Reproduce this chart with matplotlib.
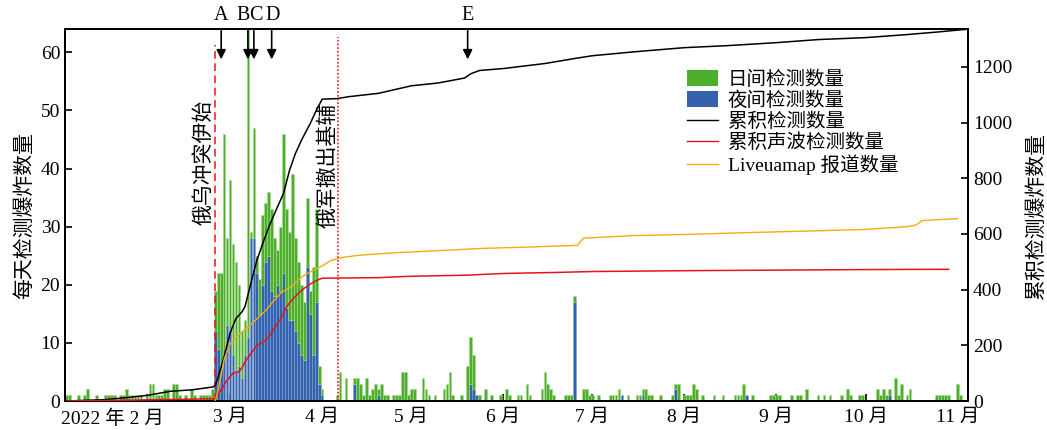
import matplotlib
matplotlib.use("Agg")
import numpy as np
import matplotlib.pyplot as plt
import matplotlib.dates as mdates
from matplotlib.patches import Patch
from matplotlib.lines import Line2D
from matplotlib.transforms import ScaledTranslation

plt.rcParams["font.family"] = ["Liberation Serif", "Noto Sans CJK SC"]

# daily detections (MM-DD of 2022), total per day and the night part of it
det_days = [
    "01-05", "01-06", "01-09", "01-11", "01-12", "01-15", "01-18", "01-19", "01-20", "01-21",
    "01-23", "01-24", "01-25", "01-26", "01-27", "01-28", "01-29", "01-30", "02-01", "02-02",
    "02-03", "02-04", "02-05", "02-06", "02-07", "02-08", "02-10", "02-11", "02-12", "02-14",
    "02-16", "02-17", "02-19", "02-20", "02-21", "02-22", "02-23",
    "02-24", "02-25", "02-26", "02-27", "02-28", "03-01", "03-02", "03-03", "03-04", "03-05",
    "03-06", "03-07", "03-08", "03-09", "03-10", "03-11", "03-12", "03-13", "03-14", "03-15",
    "03-16", "03-17", "03-18", "03-19", "03-20", "03-21", "03-22", "03-23", "03-24", "03-25",
    "03-26", "03-27", "03-28", "03-29", "03-30", "03-31", "04-01",
    "04-06", "04-07", "04-09", "04-12", "04-13", "04-14", "04-15", "04-16", "04-17", "04-18",
    "04-19", "04-20", "04-21", "04-22", "04-23", "04-25", "04-26", "04-27", "04-28", "04-29",
    "04-30", "05-01", "05-02", "05-05", "05-06", "05-07", "05-09", "05-12", "05-13", "05-14",
    "05-15", "05-18", "05-20", "05-21", "05-22", "05-23", "05-24", "05-26", "05-28", "05-31",
    "06-02", "06-03", "06-06", "06-07", "06-09", "06-10", "06-14", "06-15", "06-16", "06-17",
    "06-18", "06-22", "06-23", "06-24", "06-25", "06-28", "06-29", "06-30", "07-01", "07-03",
    "07-07", "07-08", "07-09", "07-10", "07-11", "07-13", "07-16", "07-17", "07-18", "07-19",
    "07-20", "07-21", "07-24", "07-28", "07-29", "07-30", "08-01", "08-02", "08-03", "08-04",
    "08-05", "08-07", "08-11", "08-14", "08-18", "08-19", "08-20", "08-21", "08-22", "08-24",
    "08-30", "08-31", "09-01", "09-02", "09-06", "09-08", "09-09", "09-11", "09-15", "09-17",
    "09-19", "09-23", "09-25", "09-26", "09-29", "09-30", "10-05", "10-06", "10-07", "10-08",
    "10-09", "10-11", "10-12", "10-13", "10-15", "10-16", "10-25", "10-26", "10-27", "10-28",
    "10-29", "11-01", "11-02",
]
det_total = [
    1, 1, 1, 1, 2, 1, 1, 1, 1, 1,
    1, 1, 2, 1, 1, 1, 1, 1, 1, 3,
    3, 1, 1, 1, 2, 2, 3, 3, 1, 1,
    2, 1, 1, 1, 1, 1, 2,
    19, 22, 22, 46, 28, 38, 27, 24, 20, 12,
    14, 66, 29, 47, 25, 21, 32, 34, 36, 33,
    28, 26, 30, 46, 33, 29, 39, 28, 24, 20,
    17, 35, 19, 23, 33, 6, 2,
    1, 5, 4, 4, 4, 3, 1, 4, 1, 2,
    3, 2, 3, 1, 1, 1, 1, 1, 5, 5,
    1, 2, 2, 4, 2, 1, 1, 2, 3, 5,
    1, 1, 6, 11, 8, 1, 1, 2, 1, 1,
    2, 1, 1, 1, 3, 1, 2, 5, 3, 2,
    1, 1, 1, 1, 18, 2, 2, 1, 1, 1,
    1, 1, 1, 2, 1, 1, 1, 1, 2, 2,
    1, 1, 1, 1, 3, 3, 1, 1, 1, 3,
    2, 1, 1, 1, 1, 1, 1, 3, 1, 1,
    1, 1, 1, 1, 1, 1, 1, 2, 1, 1,
    1, 1, 2, 1, 1, 1, 2, 1, 2, 1,
    2, 4, 1, 3, 1, 2, 1, 1, 1, 1,
    1, 3, 1,
]
det_night = [
    0, 0, 0, 0, 0, 0, 0, 0, 0, 0,
    0, 0, 0, 0, 0, 0, 0, 0, 0, 0,
    0, 0, 0, 0, 0, 0, 0, 0, 0, 0,
    0, 0, 0, 0, 0, 0, 0,
    12, 9, 6, 9, 13, 12, 8, 5, 6, 4,
    8, 11, 28, 28, 22, 15, 20, 24, 25, 19,
    18, 20, 19, 22, 16, 14, 14, 12, 10, 8,
    7, 23, 15, 8, 17, 3, 1,
    0, 0, 0, 3, 0, 0, 0, 0, 0, 0,
    0, 1, 0, 0, 0, 0, 0, 0, 0, 0,
    0, 0, 0, 0, 0, 0, 0, 0, 0, 0,
    0, 0, 0, 3, 2, 1, 0, 0, 0, 0,
    0, 0, 0, 0, 0, 0, 0, 0, 0, 0,
    0, 0, 0, 0, 17, 0, 0, 0, 0, 0,
    0, 0, 0, 0, 1, 0, 0, 0, 1, 0,
    0, 0, 0, 0, 2, 0, 0, 0, 0, 0,
    0, 0, 0, 0, 0, 0, 0, 0, 1, 0,
    0, 0, 0, 0, 0, 0, 0, 0, 0, 0,
    0, 0, 0, 0, 0, 0, 0, 0, 0, 0,
    1, 0, 0, 0, 0, 0, 0, 0, 0, 0,
    0, 0, 0,
]

# cumulative curves
cum_days = ["01-05", "01-18", "01-26", "02-01", "02-09", "02-16", "02-23", "02-24", "02-25",
            "02-27", "03-01", "03-03", "03-05", "03-06", "03-08", "03-10", "03-12", "03-14",
            "03-16", "03-19", "03-21", "03-23", "03-25", "03-28", "03-30", "04-01", "04-06",
            "04-10", "04-20", "05-01", "05-10", "05-19", "05-21", "05-24", "06-01", "06-15",
            "06-25", "07-01", "07-15", "08-01", "08-15", "09-01", "09-15", "10-01", "10-15",
            "10-25", "11-04"]
cum_total = [0, 5, 13, 20, 35, 40, 50, 55, 87,
             159, 244, 297, 320, 338, 423, 505, 566, 624,
             674, 746, 828, 889, 936, 997, 1043, 1084, 1086,
             1093, 1105, 1132, 1142, 1160, 1175, 1187, 1194, 1212,
             1230, 1240, 1254, 1269, 1276, 1287, 1298, 1305, 1316,
             1325, 1335]

acoustic_days = ["01-05", "02-01", "02-23", "02-24", "02-26", "02-28", "03-02", "03-04", "03-05",
                 "03-06", "03-08", "03-10", "03-12", "03-14", "03-16", "03-18", "03-20", "03-22",
                 "03-24", "03-26", "03-28", "03-30", "04-01", "04-20", "05-01", "05-20", "06-01",
                 "06-20", "07-01", "08-01", "09-01", "10-01", "10-29"]
acoustic_cum = [0, 4, 8, 8, 40, 75, 100, 106, 118,
                141, 170, 200, 210, 230, 262, 295, 338, 365,
                387, 405, 420, 432, 441, 443, 448, 452, 458,
                462, 465, 468, 470, 472, 473]

lum_days = ["02-24", "02-25", "02-27", "03-01", "03-04", "03-07", "03-10", "03-13", "03-15",
            "03-18", "03-22", "03-25", "03-29", "04-01", "04-04", "04-08", "04-14", "04-25",
            "05-10", "05-25", "06-10", "06-26", "06-28", "07-15", "08-01", "08-20", "09-10",
            "10-01", "10-15", "10-18", "10-20", "11-01"]
lum_cum = [0, 40, 150, 205, 240, 265, 295, 325, 351,
           387, 413, 445, 470, 485, 505, 516, 524, 532,
           540, 548, 553, 559, 585, 594, 598, 604, 610,
           616, 626, 632, 648, 655]

events = ["A", "B", "C", "D", "E"]
event_days = ["02-26", "03-07", "03-09", "03-15", "05-20"]
event_label_shift = [0, -5, 2, 1, 0]  # pixels, keeps B and C apart
month_labels = ["2022 年 2 月", "3 月", "4 月", "5 月", "6 月", "7 月", "8 月", "9 月", "10 月", "11 月"]


def to_dates(days):
    return mdates.datestr2num(["2022-" + d for d in days])


green = "#4dad2c"
blue = "#3562ad"

fig = plt.figure(figsize=(10.47, 4.30), dpi=100)
ax = fig.add_axes([65 / 1047, 1 - 401 / 430, 903 / 1047, 372 / 430])

x = to_dates(det_days)
night = np.array(det_night)
day = np.array(det_total) - night
ax.bar(x, night, width=0.9, color=blue, edgecolor="#7fa0d6", linewidth=0.4, zorder=2)
ax.bar(x, day, bottom=night, width=0.9, color=green, edgecolor="#a9dc8e", linewidth=0.4, zorder=2)

ax.set_xlim(mdates.datestr2num("2022-01-04") + 0.4, mdates.datestr2num("2022-11-04") + 0.5)
ax.set_ylim(0, 64)
ax.set_yticks(range(0, 61, 10))
month_ticks = mdates.datestr2num(["2022-%02d-01" % m for m in range(2, 12)])
ax.set_xticks(month_ticks)
ax.set_xticklabels(month_labels)
ax.tick_params(axis="both", direction="in", labelsize=14, length=5, width=1.2)
ax.tick_params(axis="x", pad=6)
ax.set_ylabel("每天检测爆炸数量", fontsize=15, labelpad=4)
first = ax.get_xticklabels()[0]
first.set_transform(first.get_transform() + ScaledTranslation(-0.35, 0, fig.dpi_scale_trans))

ax2 = ax.twinx()
ax2.plot(to_dates(cum_days), cum_total, color="black", lw=1.1, zorder=3)
ax2.plot(to_dates(acoustic_days), acoustic_cum, color="#e8141b", lw=1.1, zorder=3)
ax2.plot(to_dates(lum_days), lum_cum, color="#f0ae0c", lw=1.0, zorder=3)
ax2.set_ylim(0, 1336)
ax2.set_yticks(range(0, 1201, 200))
ax2.tick_params(axis="y", direction="in", labelsize=14, length=5, width=1.2)
ax2.set_ylabel("累积检测爆炸数量", fontsize=15, labelpad=11)

for a in (ax, ax2):
    for s in a.spines.values():
        s.set_linewidth(1.4)

# event lines and notes
war_day = mdates.datestr2num("2022-02-24")
kyiv_day = mdates.datestr2num("2022-04-06") + 0.3
ax.axvline(war_day, ymax=0.957, color="#e8141b", ls=(0, (5, 3)), lw=1.1, zorder=4)
ax.axvline(kyiv_day, ymax=0.978, color="#e8141b", ls=(0, (1.2, 1.2)), lw=1.1, zorder=4)
ax.text(war_day - 3.6, 41, "俄乌冲突伊始", rotation=90, ha="center", va="center", fontsize=15)
ax.text(kyiv_day - 3.2, 40.5, "俄军撤出基辅", rotation=90, ha="center", va="center", fontsize=15)

for lab, dx, shift in zip(events, to_dates(event_days), event_label_shift):
    ax.annotate("", xy=(dx, 0.911), xycoords=("data", "axes fraction"),
                xytext=(dx, 1.003), textcoords=("data", "axes fraction"),
                arrowprops=dict(arrowstyle="-|>", color="black", lw=1.2, mutation_scale=14),
                annotation_clip=False)
    ax.annotate(lab, xy=(dx, 1.037), xycoords=("data", "axes fraction"),
                xytext=(shift * 0.72, 0), textcoords="offset points",
                ha="center", va="center", fontsize=14.5, annotation_clip=False)

handles = [Patch(facecolor=green), Patch(facecolor=blue),
           Line2D([], [], color="black", lw=1), Line2D([], [], color="#e8141b", lw=1),
           Line2D([], [], color="#f0ae0c", lw=1)]
labels = ["日间检测数量", "夜间检测数量", "累积检测数量", "累积声波检测数量", "Liveuamap 报道数量"]
fig.legend(handles, labels, loc="upper left", bbox_to_anchor=(687 / 1047, 1 - 70 / 430),
           frameon=False, fontsize=14, handlelength=1.6, handleheight=0.9, handletextpad=0.5,
           labelspacing=0.12, borderpad=0, borderaxespad=0)

fig.savefig("out.png", dpi=100)
